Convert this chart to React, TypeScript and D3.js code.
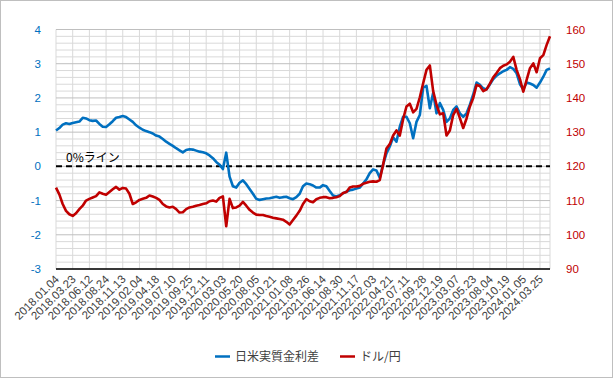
import React from 'react';
import * as d3 from 'd3';

// Category tick labels (one every 5 samples)
const tickLabels = [
  '2018.01.04', '2018.03.23', '2018.06.12', '2018.08.24', '2018.11.13',
  '2019.02.04', '2019.04.18', '2019.07.10', '2019.09.25', '2019.12.11',
  '2020.03.03', '2020.05.20', '2020.08.05', '2020.10.21', '2021.01.08',
  '2021.03.26', '2021.06.14', '2021.08.30', '2021.11.17', '2022.02.03',
  '2022.04.21', '2022.07.11', '2022.09.28', '2022.12.19', '2023.03.07',
  '2023.05.23', '2023.08.04', '2023.10.19', '2024.01.05', '2024.03.25',
];
const samplesPerLabel = 5;

const leftTicks = [-3, -2, -1, 0, 1, 2, 3, 4];
const rightTicks = [90, 100, 110, 120, 130, 140, 150, 160];

// 日米実質金利差 (left axis, %)
const rateDiff = [
  1.05, 1.12, 1.22, 1.26, 1.24, 1.27, 1.29, 1.31, 1.42, 1.40,
  1.35, 1.33, 1.34, 1.24, 1.16, 1.15, 1.23, 1.32, 1.42, 1.44,
  1.47, 1.44, 1.37, 1.30, 1.20, 1.13, 1.07, 1.03, 1.00, 0.96,
  0.90, 0.87, 0.80, 0.72, 0.66, 0.60, 0.53, 0.47, 0.41, 0.48,
  0.50, 0.49, 0.46, 0.43, 0.41, 0.38, 0.32, 0.24, 0.13, 0.05,
  -0.08, 0.40, -0.30, -0.58, -0.62, -0.48, -0.41, -0.52, -0.66, -0.80,
  -0.95, -0.98, -0.96, -0.94, -0.93, -0.91, -0.89, -0.92, -0.90, -0.89,
  -0.93, -0.96, -0.90, -0.80, -0.58, -0.50, -0.52, -0.56, -0.62, -0.62,
  -0.55, -0.58, -0.72, -0.85, -0.88, -0.84, -0.79, -0.74, -0.70, -0.68,
  -0.65, -0.62, -0.50, -0.38, -0.20, -0.09, -0.12, -0.33, 0.05, 0.38,
  0.58, 0.85, 0.72, 1.16, 1.45, 1.45, 1.26, 0.82, 1.30, 1.50,
  2.30, 2.35, 1.70, 2.15, 1.55, 1.85, 1.65, 1.30, 1.40, 1.65,
  1.75, 1.55, 1.45, 1.55, 1.80, 2.10, 2.45, 2.38, 2.28, 2.25,
  2.40, 2.55, 2.65, 2.72, 2.78, 2.82, 2.90, 2.85, 2.72, 2.40,
  2.25, 2.45, 2.42, 2.38, 2.30, 2.45, 2.62, 2.82, 2.86,
];

// ドル/円 (right axis)
const usdJpy = [
  113.8, 111.8, 109.0, 107.0, 106.0, 105.5, 106.3, 107.5, 108.5, 110.0,
  110.5, 110.9, 111.3, 112.4, 112.0, 111.7, 112.5, 113.3, 114.0, 113.2,
  113.7, 113.5, 112.0, 109.0, 109.5, 110.2, 110.5, 110.8, 111.5, 111.2,
  110.8, 110.2, 109.0, 108.3, 108.0, 108.2, 107.5, 106.5, 106.6, 107.5,
  108.0, 108.2, 108.5, 108.7, 109.0, 109.2, 109.8, 110.0, 109.7, 110.8,
  111.2, 102.5, 110.5, 107.8, 108.0, 108.5, 109.6, 108.5, 107.3, 106.5,
  105.9, 105.8, 105.8, 105.5, 105.3, 105.0, 104.8, 104.6, 104.4, 103.8,
  103.0, 104.3, 105.6, 107.0, 109.0, 110.4, 109.8, 109.5, 110.4, 110.8,
  111.0, 111.0, 110.7, 110.8, 111.0, 111.3, 112.2, 112.5, 113.8, 114.1,
  114.1, 114.3, 114.9, 115.2, 115.5, 115.6, 115.5, 116.0, 120.5, 125.2,
  126.5, 129.0, 130.5, 129.0, 133.8, 137.5, 138.3, 135.8, 136.8, 140.2,
  144.3, 148.2, 149.5, 142.0, 138.0, 135.2, 135.5, 129.0, 130.5, 135.0,
  136.8, 134.1, 131.2, 134.0, 137.5, 140.0, 143.8, 143.5, 142.0, 142.5,
  144.2, 146.0, 147.3, 148.7, 149.4, 149.8, 150.6, 152.0, 148.2, 145.5,
  141.8, 145.3, 148.7, 150.1, 147.5, 151.6, 152.5, 155.5, 158.0,
];

const seriesNames = ['日米実質金利差', 'ドル/円'];
const zeroLabel = '0%ライン';

const BLUE = '#0070C0';
const RED = '#C00000';
const FONT = '"Liberation Sans", Arial, sans-serif';
const JFONT = '"Noto Sans CJK JP", "Liberation Sans", sans-serif';

export default function App() {
  const W = 615, H = 380;
  const x0 = 56, x1 = 550, yTop = 29.5, yBot = 269;
  const x = d3.scaleLinear().domain([0, rateDiff.length - 1]).range([x0, x1]);
  const yL = d3.scaleLinear().domain([-3, 4]).range([yBot, yTop]);
  const yR = d3.scaleLinear().domain([90, 160]).range([yBot, yTop]);

  const minor = d3.range(-3, 4.0001, 0.2).filter(v => Math.abs(v - Math.round(v)) > 0.01);
  const vTicks = tickLabels.map((_, k) => k * samplesPerLabel);

  const lineL = d3.line<number>().x((_, i) => x(i)).y(d => yL(d));
  const lineR = d3.line<number>().x((_, i) => x(i)).y(d => yR(d));

  return (
    <svg width={W} height={H} style={{ position: 'absolute', left: 0, top: 0, background: '#fff' }}>
      <rect x={0.5} y={0.5} width={612} height={377} fill="#fff" stroke="#BFBFBF" />
      {/* minor horizontal grid */}
      {minor.map((v, i) => (
        <line key={'mn' + i} x1={x0} x2={x1} y1={yL(v)} y2={yL(v)} stroke="#D9D9D9" strokeWidth={1} />
      ))}
      {/* vertical grid */}
      {vTicks.map((t, i) => (
        <line key={'vg' + i} x1={x(t)} x2={x(t)} y1={yTop} y2={yBot} stroke="#D9D9D9" strokeWidth={1} />
      ))}
      <line x1={x1} x2={x1} y1={yTop} y2={yBot} stroke="#D9D9D9" strokeWidth={1} />
      {/* major horizontal grid */}
      {leftTicks.map(v => (
        <line key={'mj' + v} x1={x0} x2={x1} y1={yL(v)} y2={yL(v)} stroke="#BFBFBF" strokeWidth={1} />
      ))}
      {/* x axis line */}
      <line x1={x0} x2={x1} y1={yBot} y2={yBot} stroke="#000" strokeWidth={1.5} />
      {/* zero dashed line */}
      <line x1={x0} x2={x1} y1={yL(0)} y2={yL(0)} stroke="#000" strokeWidth={2} strokeDasharray="6 4" />
      <text x={66} y={yL(0) - 4} fontFamily={JFONT} fontSize={12} fill="#000">{zeroLabel}</text>

      {/* series */}
      <path d={lineL(rateDiff) || ''} fill="none" stroke={BLUE} strokeWidth={2.6} strokeLinejoin="round" />
      <path d={lineR(usdJpy) || ''} fill="none" stroke={RED} strokeWidth={2.6} strokeLinejoin="round" />

      {/* left axis labels */}
      {leftTicks.map(v => (
        <text key={'lt' + v} x={41} y={yL(v)} dy="0.36em" textAnchor="end" fontFamily={FONT} fontSize={11.5} fill={BLUE}>{v}</text>
      ))}
      {/* right axis labels */}
      {rightTicks.map(v => (
        <text key={'rt' + v} x={566} y={yR(v)} dy="0.36em" textAnchor="start" fontFamily={FONT} fontSize={11.5} fill={RED}>{v}</text>
      ))}
      {/* x labels */}
      {vTicks.map((t, k) => (
        <text key={'xl' + k} transform={`translate(${x(t) + 1},${yBot + 8}) rotate(-45)`} textAnchor="end" dy="0.35em"
          fontFamily={FONT} fontSize={11.5} fill="#404040">{tickLabels[k]}</text>
      ))}

      {/* legend */}
      <line x1={215} x2={230} y1={356.5} y2={356.5} stroke={BLUE} strokeWidth={2.5} />
      <text x={235} y={356.5} dy="0.36em" fontFamily={JFONT} fontSize={12} fill="#404040">{seriesNames[0]}</text>
      <line x1={340} x2={355} y1={356.5} y2={356.5} stroke={RED} strokeWidth={2.5} />
      <text x={360} y={356.5} dy="0.36em" fontFamily={JFONT} fontSize={12} fill="#404040">{seriesNames[1]}</text>
    </svg>
  );
}
